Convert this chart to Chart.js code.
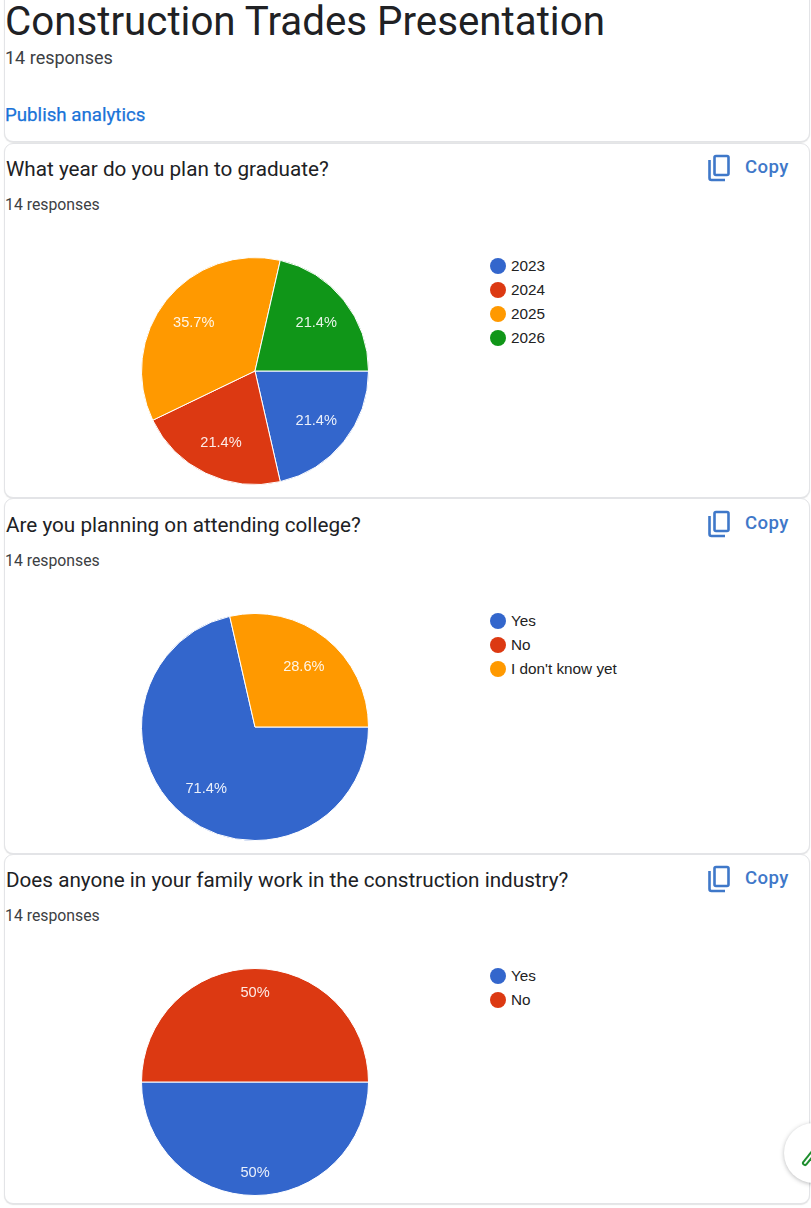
<!DOCTYPE html>
<html><head><meta charset="utf-8">
<script src="https://cdn.jsdelivr.net/npm/chart.js@4"></script>
<style>
html,body{margin:0;padding:0;background:#fff;width:811px;height:1208px;overflow:hidden;font-family:Roboto,sans-serif;color:#202124}
.abs{position:absolute;white-space:nowrap}
.card{position:absolute;left:4px;width:806px;box-sizing:border-box;border:1px solid #e3e4e7;border-radius:9px;background:#fff;box-shadow:0 1px 1px rgba(60,64,67,.14)}
.q{left:6px;font-size:20.7px;line-height:24px}
.r{left:5px;font-size:15.8px;line-height:18px;color:#3c4043}
.copy{left:745px;font-size:18.6px;line-height:22px;font-weight:500;color:#3f78c9;letter-spacing:.4px}
.ic{position:absolute;left:707px}
.leg{position:absolute;left:490px;font-family:"Liberation Sans",Arial,sans-serif;font-size:15.3px;color:#222}
.leg div{position:relative;height:24px;line-height:24px;padding-left:21px}
.leg i{position:absolute;left:0;top:4px;width:16px;height:16px;border-radius:50%}
canvas{position:absolute}
.cw{position:absolute;left:139px;width:232px;height:232px}
</style></head><body>
<div class="card" style="top:-12px;height:154px"></div>
<div class="card" style="top:143px;height:355px"></div>
<div class="card" style="top:498px;height:356px"></div>
<div class="card" style="top:854px;height:350px"></div>
<div class="abs" style="left:5px;top:0;font-size:40.3px;line-height:43px;color:#202124">Construction Trades Presentation</div>
<div class="abs r" style="top:49px;font-size:18px">14 responses</div>
<div class="abs" style="left:5px;top:105px;font-size:18.7px;line-height:20px;font-weight:400;color:#1a73d8;-webkit-text-stroke:.25px #1a73d8">Publish analytics</div>
<div id="root"></div>
<div class="abs" style="left:784px;top:1123px;width:60px;height:60px;border-radius:50%;background:#fff;box-shadow:0 1px 4px rgba(60,64,67,.35)"></div>
<svg class="abs" style="left:800px;top:1148px" width="11" height="20" viewBox="0 0 11 20"><path d="M5 15 L13 5" stroke="#1e8e2e" stroke-width="6" fill="none" stroke-linecap="round"/><path d="M5 15 L13 5" stroke="#fff" stroke-width="2" fill="none" stroke-linecap="round"/></svg>
<script>
const questions = ["What year do you plan to graduate?","Are you planning on attending college?","Does anyone in your family work in the construction industry?"];
const responseText = "14 responses";
const labelsYear = ["2023","2024","2025","2026"];
const valuesYear = [3,3,5,3];
const textYear = ["21.4%","21.4%","35.7%","21.4%"];
const labelsCollege = ["Yes","No","I don't know yet"];
const valuesCollege = [10,0,4];
const textCollege = ["71.4%","","28.6%"];
const labelsFamily = ["Yes","No"];
const valuesFamily = [7,7];
const textFamily = ["50%","50%"];
const palette = ["#3366cc","#dc3912","#ff9900","#109618"];

const sliceText = {
  id:'sliceText',
  afterDatasetsDraw(chart,args,opts){
    const c = chart.ctx, meta = chart.getDatasetMeta(0);
    c.save();
    c.font = '14.6px "Liberation Sans",Arial,sans-serif';
    c.fillStyle = 'rgba(255,255,255,.9)'; c.textAlign='center'; c.textBaseline='middle';
    meta.data.forEach((arc,i)=>{
      if(!opts.texts[i]) return;
      const p = arc.getProps(['x','y','startAngle','endAngle','outerRadius']);
      const a = (p.startAngle+p.endAngle)/2, d = p.outerRadius*opts.ratio;
      c.fillText(opts.texts[i], p.x+Math.cos(a)*d, p.y+Math.sin(a)*d+1);
    });
    c.restore();
  }
};
const panels = [
 {top:143, labels:labelsYear, values:valuesYear, texts:textYear, ratio:.69},
 {top:498.5, labels:labelsCollege, values:valuesCollege, texts:textCollege, ratio:.69},
 {top:853.5, labels:labelsFamily, values:valuesFamily, texts:textFamily, ratio:.79}
];
const root = document.getElementById('root');
panels.forEach((p,k)=>{
  const add=(cls,top,txt)=>{const d=document.createElement('div');d.className='abs '+cls;d.style.top=top+'px';d.textContent=txt;root.appendChild(d);return d;};
  add('q',p.top+14,questions[k]);
  add('r',p.top+53,responseText);
  add('copy',p.top+13,'Copy');
  const ic=document.createElementNS('http://www.w3.org/2000/svg','svg');
  ic.setAttribute('class','ic');ic.setAttribute('width','24');ic.setAttribute('height','28');ic.setAttribute('viewBox','0 0 24 28');
  ic.style.top=(p.top+11)+'px';
  ic.innerHTML='<path d="M2.5 6 V24 a2 2 0 0 0 2 2 H18" fill="none" stroke="#3f78c9" stroke-width="2.6"/><rect x="7.5" y="2" width="14" height="19" rx="1.5" fill="none" stroke="#3f78c9" stroke-width="2.6"/>';
  root.appendChild(ic);
  const w=document.createElement('div');w.className='cw';w.style.top=(p.top+112)+'px';
  const cv=document.createElement('canvas');w.appendChild(cv);root.appendChild(w);
  new Chart(cv,{type:'pie',plugins:[sliceText],data:{labels:p.labels,datasets:[{data:p.values,backgroundColor:palette.slice(0,p.labels.length),borderColor:'#fff',borderWidth:1}]},
    options:{responsive:true,maintainAspectRatio:false,animation:false,rotation:90,layout:{padding:2},
      plugins:{legend:{display:false},tooltip:{enabled:false},sliceText:{texts:p.texts,ratio:p.ratio}}}});
  const lg=document.createElement('div');lg.className='leg';lg.style.top=(p.top+110.5)+'px';
  p.labels.forEach((l,i)=>{const r=document.createElement('div');const dot=document.createElement('i');dot.style.background=palette[i];r.appendChild(dot);r.appendChild(document.createTextNode(l));lg.appendChild(r);});
  root.appendChild(lg);
});
</script>
</body></html>
